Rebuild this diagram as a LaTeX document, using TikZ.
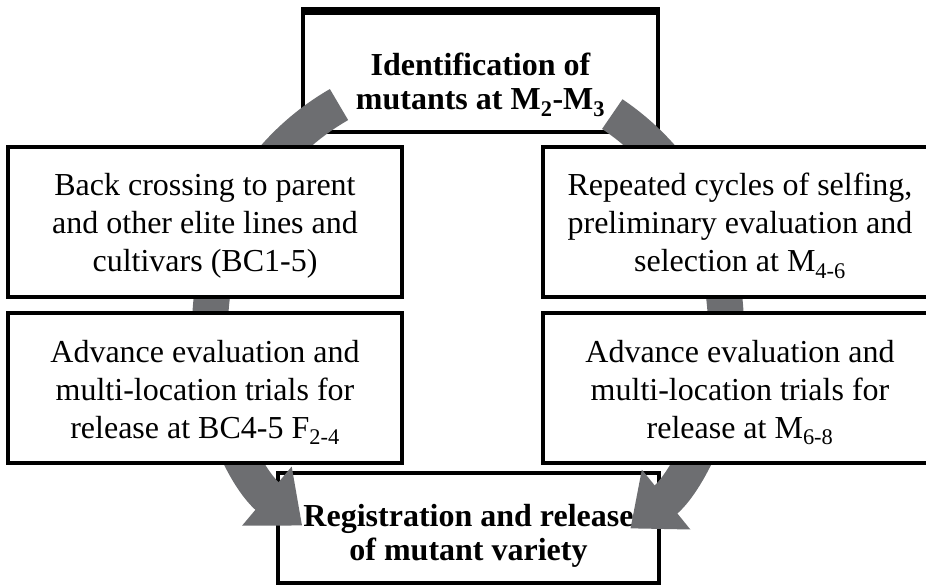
\documentclass[tikz,border=0pt]{standalone}
\usepackage{fontspec}
\setmainfont{Liberation Serif}
\usetikzlibrary{arrows.meta, positioning}
\definecolor{flowgray}{RGB}{109,110,113}

\begin{document}
\begin{tikzpicture}[x=1pt,y=1pt,
  box/.style={draw,rectangle,line width=4pt,fill=white,align=center,inner sep=0pt,
    font=\fontsize{32}{38}\selectfont},
  boldbox/.style={box,font=\fontsize{32}{34}\selectfont\bfseries},
  stage/.style={box,minimum width=394pt,minimum height=150pt,text height=105pt,text depth=5pt},
  flow/.style={draw=flowgray,line width=36pt,-{Triangle[width=74pt,length=46pt]}}]
  \useasboundingbox (0,0) rectangle (926,587);
  \clip (0,0) rectangle (926,587);

  \node[boldbox,minimum width=355pt,minimum height=119pt,text height=80pt,text depth=5pt] (a) at (480.5,514.5) {Identification of\\mutants at M\textsubscript{2}-M\textsubscript{3}};
  \draw[line width=8pt] (a.north west) -- (a.north east);
  \node[boldbox,minimum width=381pt,minimum height=110pt,text height=70pt,text depth=6pt] (f) at (468.5,59) {Registration and release\\of mutant variety};

  % the two curved flows
  \coordinate (o) at (468,259);
  \draw[flow] ([shift={(120:258)}]o) arc[start angle=120,end angle=230,radius=258];
  \draw[flow] ([shift={(56:258)}]o) arc[start angle=56,end angle=-51,radius=258];

  \node[stage] (b) at (205,365) {Back crossing to parent\\and other elite lines and\\cultivars (BC1-5)};
  \node[stage,right=137pt of b] (c) {Repeated cycles of selfing,\\preliminary evaluation and\\selection at M\textsubscript{4-6}};
  \node[stage,below=12pt of b] (d) {Advance evaluation and\\multi-location trials for\\release at BC4-5 F\textsubscript{2-4}};
  \node[stage,below=12pt of c] (e) {Advance evaluation and\\multi-location trials for\\release at M\textsubscript{6-8}};

\end{tikzpicture}
\end{document}
